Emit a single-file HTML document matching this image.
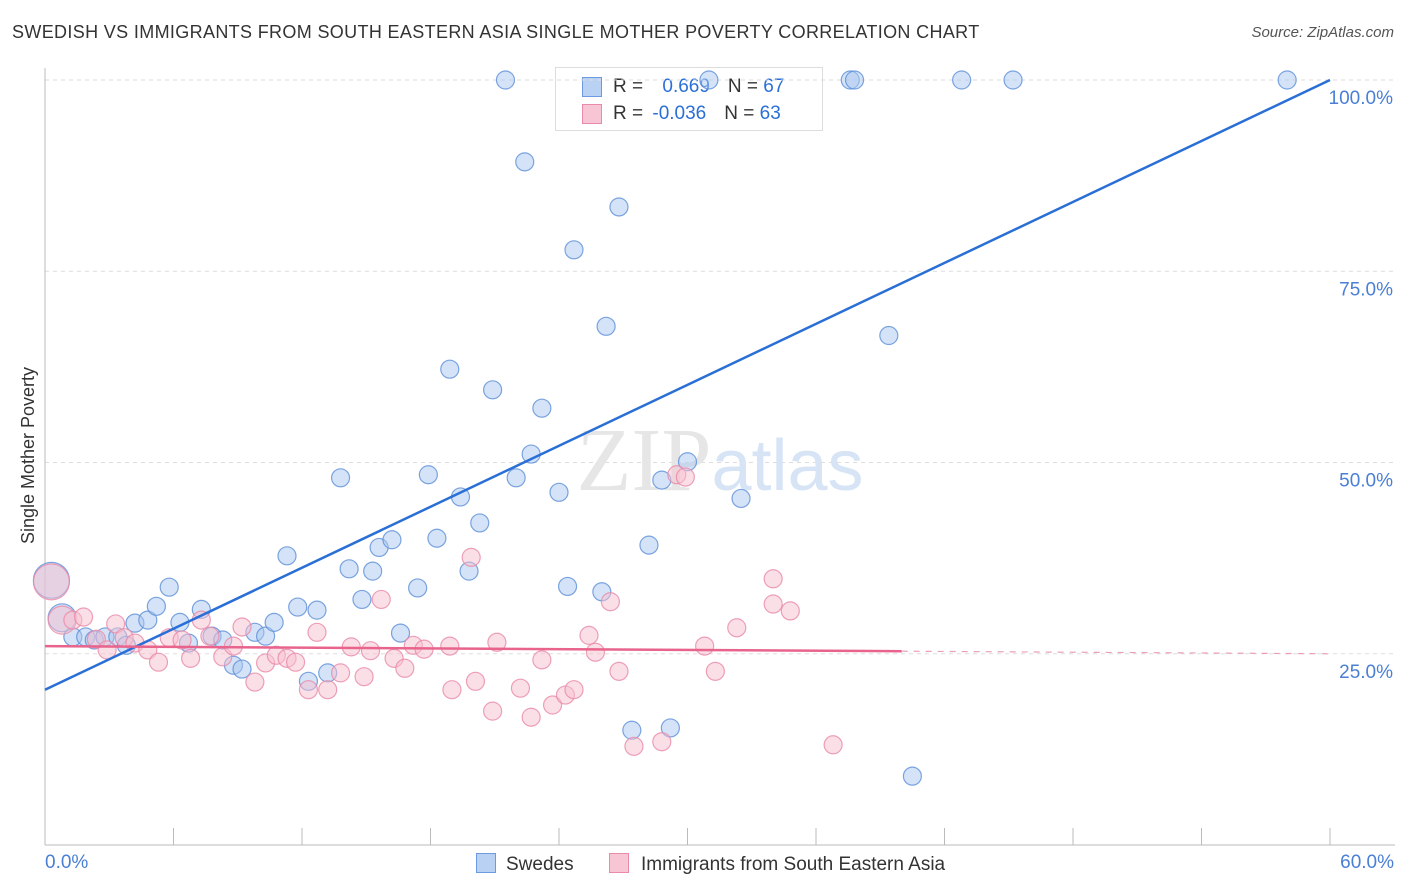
<!DOCTYPE html>
<html><head><meta charset="utf-8"><style>
body{margin:0;background:#fff;font-family:"Liberation Sans",sans-serif;}
#wrap{position:relative;width:1406px;height:892px;overflow:hidden;}
.t{position:absolute;white-space:nowrap;}
</style></head><body>
<div id="wrap">
<div class="t" style="left:12px;top:22px;font-size:18px;color:#333;letter-spacing:0.35px;">SWEDISH VS IMMIGRANTS FROM SOUTH EASTERN ASIA SINGLE MOTHER POVERTY CORRELATION CHART</div>
<div class="t" style="right:12px;top:24px;font-size:15px;color:#555;font-style:italic;">Source: ZipAtlas.com</div>
<div style="position:absolute;left:555px;top:67px;width:266px;height:62px;border:1px solid #ddd;background:#fff;font-size:19px;color:#333;">
 <div style="position:absolute;left:26px;top:9px;width:18px;height:18px;background:#b9d2f3;border:1px solid #6d9ade;"></div>
 <div class="t" style="left:57px;top:8px;">R = <span style="color:#2a6fd6;margin-left:14px">0.669</span><span style="margin-left:18px">N = </span><span style="color:#2a6fd6">67</span></div>
 <div style="position:absolute;left:26px;top:36px;width:18px;height:18px;background:#f8c5d4;border:1px solid #e98aa8;"></div>
 <div class="t" style="left:57px;top:35px;">R = <span style="color:#2a6fd6;margin-left:4px">-0.036</span><span style="margin-left:18px">N = </span><span style="color:#2a6fd6">63</span></div>
</div>
<svg id="svg" width="1406" height="892" style="position:absolute;left:0;top:0;pointer-events:none"></svg>
</div>
<script>
const xTicks=[0,6,12,18,24,30,36,42,48,54,60];
const yTicks=[25,50,75,100];
const yTickLabels=["25.0%","50.0%","75.0%","100.0%"];
const blueX=[0.3,0.8,1.3,1.9,2.3,2.8,3.4,3.8,4.2,4.8,5.2,5.8,6.3,6.7,7.3,7.8,8.3,8.8,9.2,9.8,10.3,10.7,11.3,11.8,12.3,12.7,13.2,13.8,14.2,14.8,15.3,15.6,16.2,16.6,17.4,17.9,18.3,18.9,19.4,19.8,20.3,20.9,21.5,22.0,22.4,22.7,23.2,24.0,24.4,24.7,26.0,26.2,26.8,27.4,28.2,28.8,29.2,30.0,31.0,32.5,37.6,37.8,39.4,40.5,42.8,45.2,58.0];
const blueY=[34.6,29.7,27.2,27.2,26.8,27.2,27.2,26.1,29.0,29.4,31.2,33.7,29.1,26.4,30.8,27.3,26.8,23.5,23.0,27.8,27.3,29.1,37.8,31.1,21.4,30.7,22.5,48.0,36.1,32.1,35.8,38.9,39.9,27.7,33.6,48.4,40.1,62.2,45.5,35.8,42.1,59.5,100,48.0,89.3,51.1,57.1,46.1,33.8,77.8,33.1,67.8,83.4,15.0,39.2,47.7,15.3,50.1,100,45.3,100,100,66.6,9.0,100,100,100];
const pinkX=[0.3,0.8,1.3,1.8,2.4,2.9,3.3,3.7,4.2,4.8,5.3,5.8,6.4,6.8,7.3,7.7,8.3,8.8,9.2,9.8,10.3,10.8,11.3,11.7,12.3,12.7,13.2,13.8,14.3,14.9,15.2,15.7,16.3,16.8,17.2,17.7,19.0,18.9,19.9,20.1,20.9,21.1,22.2,22.7,23.2,23.7,24.3,24.7,25.4,25.7,26.4,26.8,27.5,28.8,29.5,29.9,30.8,31.3,32.3,34.0,34.0,34.8,36.8];
const pinkY=[34.4,29.4,29.4,29.8,26.9,25.5,28.9,27.1,26.4,25.5,23.9,27.1,26.8,24.4,29.4,27.3,24.6,26.0,28.5,21.3,23.8,24.8,24.4,23.9,20.3,27.8,20.3,22.5,25.9,22.0,25.4,32.1,24.4,23.1,26.1,25.6,20.3,26.0,37.6,21.4,17.5,26.5,20.5,16.7,24.2,18.3,19.6,20.3,27.4,25.2,31.8,22.7,12.9,13.5,48.4,48.1,26.0,22.7,28.4,34.8,31.5,30.6,13.1];
const blueLine=[20.3,100];
const pinkLine=[26.0,25.0];
const L=45,R=1330,T=80,B=845;
const xs=v=>L+v/60*(R-L);
const ys=v=>B-v/100*(B-T);
const svg=document.getElementById('svg');
const NS="http://www.w3.org/2000/svg";
function mk(tag,attrs){const e=document.createElementNS(NS,tag);for(const k in attrs)e.setAttribute(k,attrs[k]);svg.appendChild(e);return e;}
yTicks.forEach((v,i)=>{
  const g=mk('line',{x1:L,x2:1395,y1:ys(v),y2:ys(v),stroke:'#ddd','stroke-dasharray':'4,4'});
  
  
  const t=mk('text',{x:1393,y:ys(v)+24,'text-anchor':'end','font-size':19,fill:'#4a7fd4','font-family':'Liberation Sans'});
  t.textContent=yTickLabels[i];
  
  
});
const ax=mk('line',{x1:L,x2:L,y1:68,y2:B,stroke:'#bbb'});


const bx=mk('line',{x1:L,x2:1395,y1:B,y2:B,stroke:'#bbb'});


xTicks.forEach(v=>{
  const t=mk('line',{x1:xs(v),x2:xs(v),y1:828,y2:B,stroke:'#bbb'});
  
  
});
const wm=mk('text',{x:720,y:490,'text-anchor':'middle','font-size':90,fill:'#e6e6e6','font-family':'Liberation Serif'});
wm.innerHTML='ZIP<tspan fill="#d6e4f5" font-family="Liberation Sans" font-size="72">atlas</tspan>';


function dots(X,Y,fill,stroke,name){
  X.forEach((x,i)=>{
    const r=i===0?18:(i===1?14:9);
    const c=mk('circle',{cx:xs(x),cy:ys(Y[i]),r:r,fill:fill,'fill-opacity':0.5,stroke:stroke,'stroke-width':1.2,'stroke-opacity':0.8});
    
    
  });
}
dots(blueX,blueY,'#a9c8f0','#5d8fd8','swedes-point');
dots(pinkX,pinkY,'#f7bfd0','#e98aa8','sea-immigrants-point');
const bl=mk('line',{x1:xs(0),y1:ys(blueLine[0]),x2:xs(60),y2:ys(blueLine[1]),stroke:'#2a6fd6','stroke-width':2.5});


const pm=pinkLine[0]+(pinkLine[1]-pinkLine[0])*(40/60);
const pl=mk('line',{x1:xs(0),y1:ys(pinkLine[0]),x2:xs(40),y2:ys(pm),stroke:'#e8648c','stroke-width':2.5});


const pd=mk('line',{x1:xs(40),y1:ys(pm),x2:xs(60),y2:ys(pinkLine[1]),stroke:'#e8a0b6','stroke-width':1.2,'stroke-dasharray':'6,6'});


</script>
<div class="t" style="left:-60px;top:445px;font-size:18px;color:#333;transform:rotate(-90deg);">Single Mother Poverty</div>
<div class="t" style="left:45px;top:852px;font-size:19px;color:#4a7fd4;">0.0%</div>
<div class="t" style="right:12px;top:852px;font-size:19px;color:#4a7fd4;">60.0%</div>
<div style="position:absolute;left:476px;top:853px;font-size:19px;color:#333;">
 <span style="display:inline-block;width:18px;height:18px;background:#b9d2f3;border:1px solid #6d9ade;vertical-align:-3px;margin-right:10px"></span>Swedes</div>
<div style="position:absolute;left:609px;top:853px;font-size:19px;color:#333;">
 <span style="display:inline-block;width:18px;height:18px;background:#f8c5d4;border:1px solid #e98aa8;vertical-align:-3px;margin-right:12px"></span>Immigrants from South Eastern Asia</div>
</body></html>
